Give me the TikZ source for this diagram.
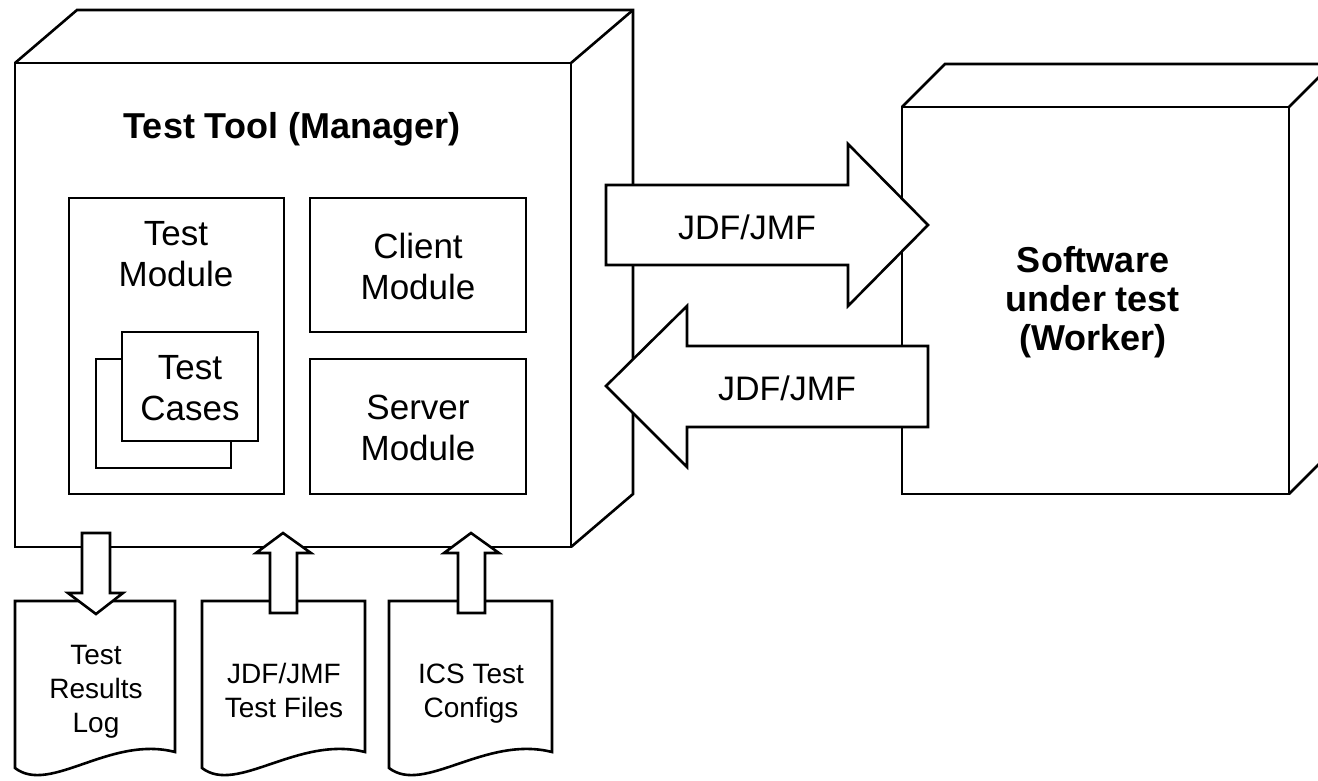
\documentclass[tikz,border=0pt]{standalone}
\usepackage{fontspec}
\setmainfont{Liberation Sans}
\begin{document}
\begin{tikzpicture}[x=1pt,y=-1pt,line width=2.6pt,line join=miter,
  solid/.style={draw=black,fill=white},
  bigtxt/.style={font=\fontsize{36}{39}\selectfont\bfseries,align=center,inner sep=0pt,anchor=base},
  modtxt/.style={font=\fontsize{35}{41}\selectfont,align=center,inner sep=0pt,anchor=base},
  arrtxt/.style={font=\fontsize{34}{40}\selectfont,inner sep=0pt,anchor=base},
  doctxt/.style={font=\fontsize{28}{34}\selectfont,align=center,inner sep=0pt,anchor=base}]
\useasboundingbox (0,0) rectangle (1318,780);
\begin{scope}
\clip (0,0) rectangle (1318,780);
% left cube (manager)
\draw[solid] (15,63) rectangle (571,547);
\draw (15,63) -- (77,10) -- (633,10) -- (633,494) -- (571,547);
\draw (571,63) -- (633,10);
\node[bigtxt] (title) at (292,138) {Test Tool (Manager)};
% modules
\draw[solid] (69,198) rectangle (284,494);
\node[modtxt] (tm) at (176,286) {Test\\Module};
\draw[solid] (96,359) rectangle (231,468);
\draw[solid] (122,332) rectangle (258,441);
\node[modtxt] (tc) at (190,420) {Test\\Cases};
\draw[solid] (310,198) rectangle (526,332);
\node[modtxt] (cm) at (418,299) {Client\\Module};
\draw[solid] (310,359) rectangle (526,494);
\node[modtxt] (sm) at (418,460) {Server\\Module};
% right cube (worker)
\draw[solid] (902,107) rectangle (1289,494);
\draw (902,107) -- (945,64) -- (1332,64) -- (1332,451) -- (1289,494);
\draw (1289,107) -- (1332,64);
\node[bigtxt] (sut) at (1093,350) {Software\\under test\\(Worker)};
% JDF arrows
\draw[solid] (606,185) -- (848,185) -- (848,144) -- (928,225) -- (848,306) -- (848,265) -- (606,265) -- cycle;
\node[arrtxt] (j1) at (747,239) {JDF/JMF};
\draw[solid] (928,346) -- (687,346) -- (687,306) -- (606,386) -- (687,467) -- (687,427) -- (928,427) -- cycle;
\node[arrtxt] (j2) at (787,400) {JDF/JMF};
% documents
\draw[solid] (15,601) -- (175,601) -- (175,752) .. controls (110,735) and (50,795) .. (15,768) -- cycle;
\node[doctxt] (d1) at (96,732) {Test\\Results\\Log};
\draw[solid] (202,601) -- (365,601) -- (365,752) .. controls (298,735) and (237,795) .. (202,768) -- cycle;
\node[doctxt] (d2) at (284,717) {JDF/JMF\\Test Files};
\draw[solid] (389,601) -- (552,601) -- (552,752) .. controls (485,735) and (424,795) .. (389,768) -- cycle;
\node[doctxt] (d3) at (471,717) {ICS Test\\Configs};
% small block arrows
\draw[solid] (82,533) -- (110,533) -- (110,593) -- (123,593) -- (96,614) -- (68,593) -- (82,593) -- cycle;
\draw[solid] (270,613) -- (270,553) -- (256,553) -- (283,533) -- (311,553) -- (297,553) -- (297,613) -- cycle;
\draw[solid] (458,613) -- (458,553) -- (444,553) -- (471,533) -- (499,553) -- (485,553) -- (485,613) -- cycle;
\end{scope}
\end{tikzpicture}
\end{document}
